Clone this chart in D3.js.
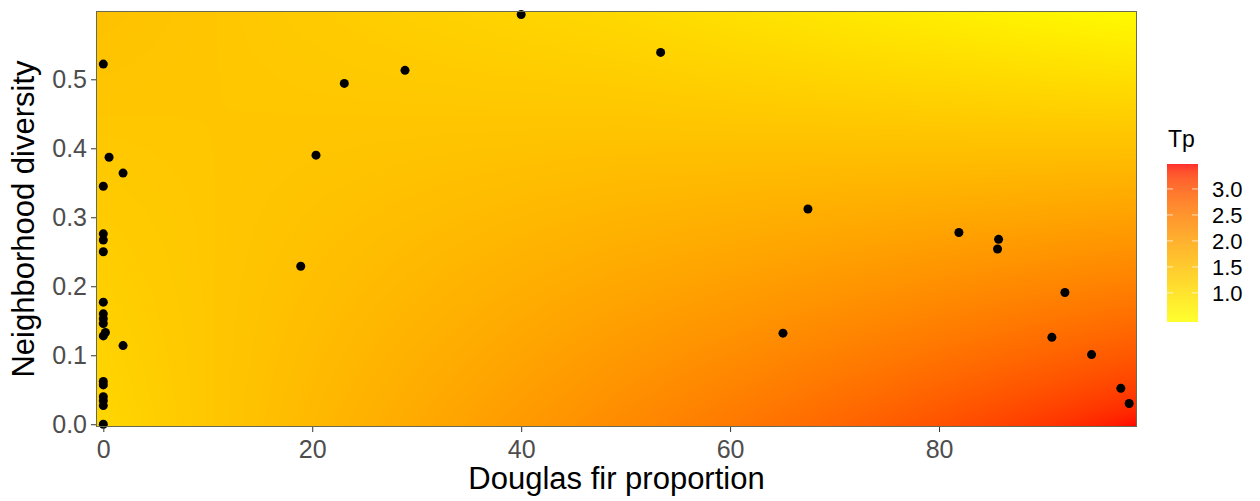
<!DOCTYPE html>
<html><head><meta charset="utf-8">
<script src="https://cdn.jsdelivr.net/npm/d3@7"></script>
<style>
html,body{margin:0;padding:0;background:#fff;}
svg{display:block;font-family:"Liberation Sans",Arial,sans-serif;}
</style></head>
<body>
<svg id="chart" width="1260" height="501"></svg>
<script>
// ---- data ----
const douglasFir = [0,0.55,1.89,0,0,0,0,0,0,0,0,0.2,0,1.89,0,0,0,0,0,0,
  18.9,20.36,23.07,28.88,40.0,53.35,65.06,67.45,81.9,85.7,85.6,90.8,92.05,94.6,97.4,98.2];
const diversity = [0.522,0.387,0.364,0.345,0.276,0.267,0.250,0.177,0.160,0.153,0.146,0.133,0.128,0.114,0.062,0.057,0.040,0.034,0.027,0.0,
  0.229,0.390,0.494,0.513,0.594,0.539,0.132,0.312,0.278,0.268,0.254,0.126,0.191,0.101,0.052,0.030];
const gridX = [-0.7, 49.1, 98.95];
const gridY = [-0.004, 0.297, 0.599];
const tpBottom = [1.11, 2.30, 3.48];
const tpMiddle = [1.29, 1.68, 1.99];
const tpTop    = [1.47, 1.08, 0.50];
const tpRange = [0.44, 3.48];
const xTicks = [0,20,40,60,80];
const yTicks = [0,0.1,0.2,0.3,0.4,0.5];
const legendTicks = [1.0,1.5,2.0,2.5,3.0];

// ---- layout ----
const P = {l:96, r:1137, t:11, b:427};
const svg = d3.select("#chart");
const x = d3.scaleLinear().domain([gridX[0], gridX[2]]).range([P.l, P.r]);
const y = d3.scaleLinear().domain([gridY[0], gridY[2]]).range([P.b, P.t]);
const color = d3.scaleLinear().domain(tpRange).range(["#ffff00","#ff0000"]).interpolate(d3.interpolateLab).clamp(true);

const rows = [tpBottom, tpMiddle, tpTop];
function tpAt(xv, yv){
  const ix = Math.max(0, Math.min(gridX.length-2, d3.bisectRight(gridX, xv)-1));
  const iy = Math.max(0, Math.min(gridY.length-2, d3.bisectRight(gridY, yv)-1));
  const fx = (xv-gridX[ix])/(gridX[ix+1]-gridX[ix]);
  const fy = (yv-gridY[iy])/(gridY[iy+1]-gridY[iy]);
  const a = rows[iy][ix], b = rows[iy][ix+1], c = rows[iy+1][ix], d = rows[iy+1][ix+1];
  return (a*(1-fx)+b*fx)*(1-fy) + (c*(1-fx)+d*fx)*fy;
}

// raster
const W = P.r-P.l, H = P.b-P.t;
const cv = document.createElement("canvas");
cv.width = W; cv.height = H;
const ctx = cv.getContext("2d");
const img = ctx.createImageData(W, H);
for (let j=0;j<H;j++){
  const yv = y.invert(P.t+j+0.5);
  for (let i=0;i<W;i++){
    const xv = x.invert(P.l+i+0.5);
    const c = d3.rgb(color(tpAt(xv,yv)));
    const k = (j*W+i)*4;
    img.data[k]=c.r; img.data[k+1]=c.g; img.data[k+2]=c.b; img.data[k+3]=255;
  }
}
ctx.putImageData(img,0,0);
svg.append("image").attr("x",P.l).attr("y",P.t).attr("width",W).attr("height",H)
  .attr("preserveAspectRatio","none").attr("href", cv.toDataURL());

// points
svg.append("g").selectAll("circle").data(douglasFir).join("circle")
  .attr("cx",(d)=>x(d)).attr("cy",(d,i)=>y(diversity[i])).attr("r",4.5).attr("fill","#000");

// panel border
svg.append("rect").attr("x",P.l+0.5).attr("y",P.t+0.5).attr("width",W-1).attr("height",H-1)
  .attr("fill","none").attr("stroke","#6a6a50").attr("stroke-width",1);

// axes
const gx = svg.append("g").attr("transform",`translate(0,${P.b})`)
  .call(d3.axisBottom(x).tickValues(xTicks).tickSize(5).tickPadding(8).tickFormat(d3.format("d")));
const gy = svg.append("g").attr("transform",`translate(${P.l},0)`)
  .call(d3.axisLeft(y).tickValues(yTicks).tickSize(5).tickPadding(4).tickFormat(d3.format(".1f")));
[gx,gy].forEach(g=>{
  g.select(".domain").remove();
  g.selectAll(".tick line").attr("stroke","#333").attr("stroke-width",1);
  g.selectAll(".tick text").attr("fill","#4d4d4d").style("font-size","25px").style("font-family","'Liberation Sans',Arial,sans-serif");
});

// axis titles
svg.append("text").attr("x",(P.l+P.r)/2).attr("y",489).attr("text-anchor","middle")
  .style("font-size","31px").attr("fill","#000").text("Douglas fir proportion");
svg.append("text").attr("transform",`translate(34,${(P.t+P.b)/2}) rotate(-90)`).attr("text-anchor","middle")
  .style("font-size","31px").attr("fill","#000").text("Neighborhood diversity");

// legend
const L = {x:1167, y:164, w:31, h:158};
const ly = d3.scaleLinear().domain(tpRange).range([L.y+L.h, L.y]);
const defs = svg.append("defs");
const grad = defs.append("linearGradient").attr("id","tpgrad").attr("x1",0).attr("y1",1).attr("x2",0).attr("y2",0);
d3.range(0,1.0001,0.05).forEach(t=>{
  grad.append("stop").attr("offset",t).attr("stop-color",color(tpRange[0]+t*(tpRange[1]-tpRange[0])));
});
svg.append("rect").attr("x",L.x).attr("y",L.y).attr("width",L.w).attr("height",L.h)
  .attr("fill","url(#tpgrad)").attr("opacity",0.82);
const lg = svg.append("g");
legendTicks.forEach(v=>{
  lg.append("line").attr("x1",L.x).attr("x2",L.x+6).attr("y1",ly(v)).attr("y2",ly(v)).attr("stroke","#fff").attr("stroke-opacity",0.7);
  lg.append("line").attr("x1",L.x+L.w-6).attr("x2",L.x+L.w).attr("y1",ly(v)).attr("y2",ly(v)).attr("stroke","#fff").attr("stroke-opacity",0.7);
  lg.append("text").attr("x",1212).attr("y",ly(v)).attr("dy","0.36em")
    .style("font-size","22px").attr("fill","#000").text(d3.format(".1f")(v));
});
svg.append("text").attr("x",1168).attr("y",147).style("font-size","23px").attr("fill","#000").text("Tp");
</script>
</body></html>
